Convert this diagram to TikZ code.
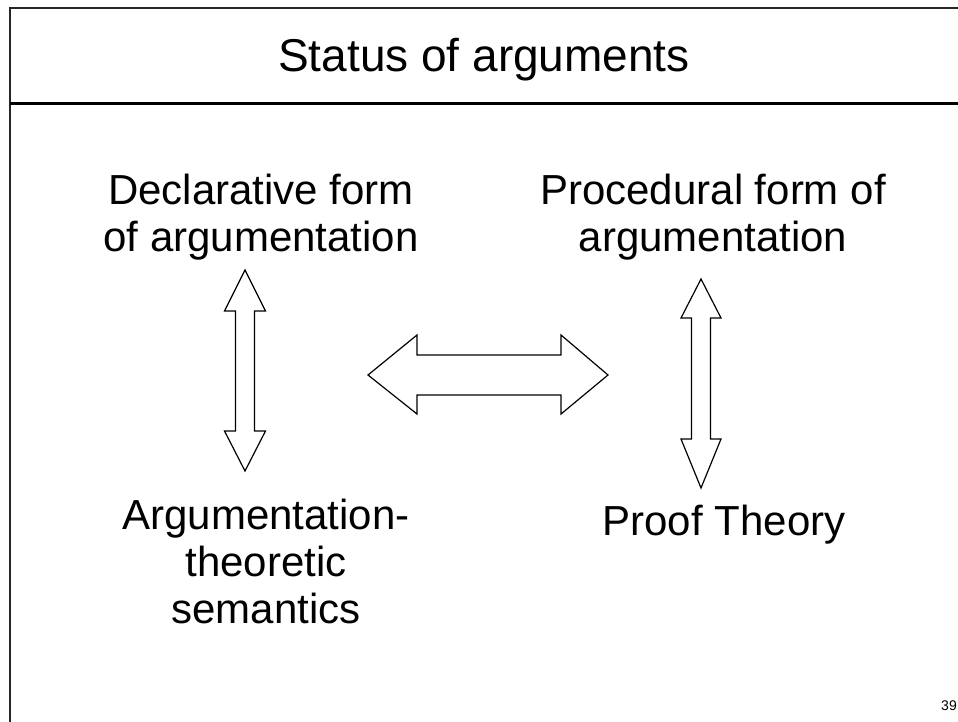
\documentclass[tikz,border=0pt]{standalone}
\usepackage{fontspec}
\setmainfont{Liberation Sans}
\begin{document}
\begin{tikzpicture}[x=1pt,y=-1pt,
  frameline/.style={line width=2.5pt,black!85},
  bodytext/.style={inner sep=0pt,align=center,font=\fontsize{42}{47}\selectfont},
  blockarrow/.style={draw=black,line width=1.2pt,fill=white,line join=miter}]
\useasboundingbox (0,0) rectangle (958,722);
\fill[white] (0,0) rectangle (958,722);

% slide frame and title bar
\draw[frameline] (10,722) -- (10,8) -- (958,8);
\draw[line width=3pt,black] (10,104) -- (958,104);
\node[inner sep=0pt,anchor=base,font=\fontsize{46}{52}\selectfont] (title) at (484,72) {Status of arguments};

% the four blocks of text
\node[bodytext,anchor=north] (decl) at (261,174) {Declarative form\\of argumentation};
\node[bodytext,anchor=north] (proc) at (713,174) {Procedural form of\\argumentation};
\node[bodytext,anchor=north] (sem) at (266,499) {Argumentation-\\theoretic\\semantics};
\node[bodytext,anchor=north] (proof) at (724,505) {Proof Theory};

% two-headed block arrows
\draw[blockarrow] (245,270) -- (265.5,311) -- (254.5,311) -- (254.5,431) -- (265.5,431)
  -- (245,471) -- (224.5,431) -- (235.5,431) -- (235.5,311) -- (224.5,311) -- cycle;
\draw[blockarrow] (701,279) -- (721,318) -- (710.5,318) -- (710.5,439) -- (721,439)
  -- (701,488) -- (681,439) -- (691.5,439) -- (691.5,318) -- (681,318) -- cycle;
\draw[blockarrow] (368,375) -- (417,335) -- (417,355) -- (561,355) -- (561,335)
  -- (608,375) -- (561,414) -- (561,395) -- (417,395) -- (417,414) -- cycle;

% page number
\node[inner sep=0pt,anchor=base east,font=\fontsize{14}{16}\selectfont] (pagenum) at (957,710) {39};
\end{tikzpicture}
\end{document}
